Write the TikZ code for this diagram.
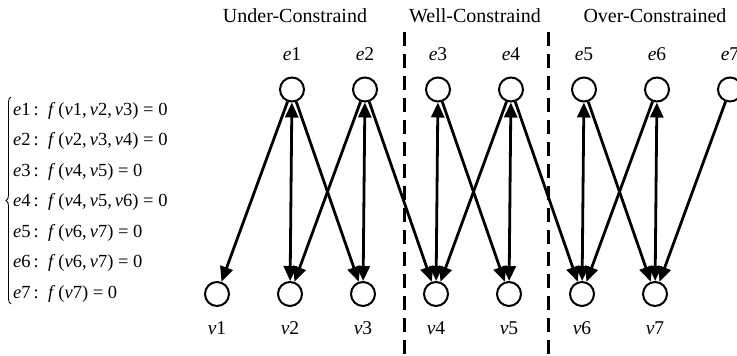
\documentclass[tikz,border=0pt]{standalone}
\usepackage{fontspec}
\setmainfont{Liberation Serif}
\newfontfamily\tms{Liberation Serif}
\usetikzlibrary{arrows.meta,decorations.pathreplacing}
\begin{document}
\begin{tikzpicture}[x=1pt,y=-1pt,
  vert/.style={circle,draw,line width=2pt,minimum size=24pt,inner sep=0pt},
  lab/.style={font=\tms\fontsize{19.5}{22}\selectfont,anchor=base,inner sep=0pt},
  head/.style={font=\tms\fontsize{20}{22}\selectfont,anchor=base,inner sep=0pt},
  eqn/.style={font=\tms\fontsize{18.5}{20}\selectfont,anchor=base west,inner sep=0pt},
  conn/.style={line width=2.8pt,-{Triangle[length=15pt,width=13pt]}},
  both/.style={line width=2.8pt,{Triangle[length=15pt,width=13pt]}-{Triangle[length=15pt,width=13pt]}},
  sep/.style={line width=3pt,dash pattern=on 14pt off 8pt}]
\useasboundingbox (0,0) rectangle (737,356);
% headers
\node[head] (h1) at (295,22) {Under-Constraind};
\node[head] (h2) at (475,22) {Well-Constraind};
\node[head] (h3) at (655,22) {Over-Constrained};
% separators
\coordinate (s1a) at (404,32); \coordinate (s1b) at (404,356);
\coordinate (s2a) at (548,32); \coordinate (s2b) at (548,356);
\draw[sep] (s1a) -- (s1b);
\draw[sep] (s2a) -- (s2b);
% nodes
\foreach \i in {1,...,7}{
  \node[vert] (e\i) at ({292+73*(\i-1)},89.5) {};
  \node[vert] (v\i) at ({217+73*(\i-1)},294) {};
  \node[lab] (le\i) at ({292+73*(\i-1)},60) {\textit{e}\i};
  \node[lab] (lv\i) at ({217+73*(\i-1)},334) {\textit{v}\i};
}
% edges
\draw[conn] (e1) -- (v1);
\draw[both] (e1) -- (v2);
\draw[conn] (e1) -- (v3);
\draw[conn] (e2) -- (v2);
\draw[both] (e2) -- (v3);
\draw[conn] (e2) -- (v4);
\draw[both] (e3) -- (v4);
\draw[conn] (e3) -- (v5);
\draw[conn] (e4) -- (v4);
\draw[both] (e4) -- (v5);
\draw[conn] (e4) -- (v6);
\draw[both] (e5) -- (v6);
\draw[conn] (e5) -- (v7);
\draw[conn] (e6) -- (v6);
\draw[both] (e6) -- (v7);
\draw[conn] (e7) -- (v7);
% equations
\node[eqn] (q1) at (13,115) {\textit{e}1\,:\, \textit{f}\,(\textit{v}1,\,\textit{v}2,\,\textit{v}3) = 0};
\node[eqn] (q2) at (13,145.5) {\textit{e}2\,:\, \textit{f}\,(\textit{v}2,\,\textit{v}3,\,\textit{v}4) = 0};
\node[eqn] (q3) at (13,176) {\textit{e}3\,:\, \textit{f}\,(\textit{v}4,\,\textit{v}5) = 0};
\node[eqn] (q4) at (13,206.5) {\textit{e}4\,:\, \textit{f}\,(\textit{v}4,\,\textit{v}5,\,\textit{v}6) = 0};
\node[eqn] (q5) at (13,237) {\textit{e}5\,:\, \textit{f}\,(\textit{v}6,\,\textit{v}7) = 0};
\node[eqn] (q6) at (13,267.5) {\textit{e}6\,:\, \textit{f}\,(\textit{v}6,\,\textit{v}7) = 0};
\node[eqn] (q7) at (13,298) {\textit{e}7\,:\, \textit{f}\,(\textit{v}7) = 0};
\coordinate (ba) at (11,304);
\coordinate (bb) at (11,97);
\draw[decorate,decoration={brace,amplitude=5pt},line width=0.9pt] (ba) -- (bb);
\end{tikzpicture}
\end{document}
